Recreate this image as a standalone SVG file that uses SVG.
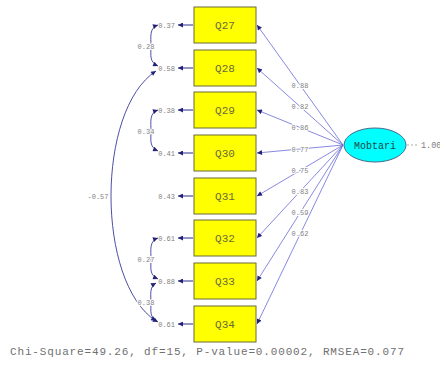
<svg xmlns="http://www.w3.org/2000/svg" width="440" height="367" viewBox="0 0 440 367">
<style>
.box{fill:#ffff00;stroke:#6b6b3a;stroke-width:1}
.bt{font-family:"Liberation Mono",monospace;font-size:11px;fill:#6a6a40;text-anchor:middle}
.sm{font-family:"Liberation Mono",monospace;font-size:7px;fill:#808080}
.ld{stroke:#6a6ad8;stroke-width:0.8;fill:none}
.er{stroke:#2a2a90;stroke-width:1;fill:none}
.cv{stroke:#3a3a9a;stroke-width:0.9;fill:none}
.lbl{paint-order:stroke;stroke:#ffffff;stroke-width:2px}
</style>
<defs>
<marker id="ah" viewBox="0 0 10 10" refX="10" refY="5" markerWidth="6" markerHeight="5" markerUnits="userSpaceOnUse" orient="auto-start-reverse">
<path d="M0,0 L10,5 L0,10 z" fill="#22227a"/>
</marker>
</defs>
<rect width="440" height="367" fill="#ffffff"/>
<g id="connectors">
<line class="ld" x1="343" y1="145" x2="257" y2="25" marker-end="url(#ah)"/>
<line class="ld" x1="343" y1="145" x2="257" y2="68" marker-end="url(#ah)"/>
<line class="ld" x1="343" y1="145" x2="257" y2="110" marker-end="url(#ah)"/>
<line class="ld" x1="343" y1="145" x2="257" y2="153" marker-end="url(#ah)"/>
<line class="ld" x1="343" y1="145" x2="257" y2="196" marker-end="url(#ah)"/>
<line class="ld" x1="343" y1="145" x2="257" y2="238" marker-end="url(#ah)"/>
<line class="ld" x1="343" y1="145" x2="257" y2="281" marker-end="url(#ah)"/>
<line class="ld" x1="343" y1="145" x2="257" y2="324" marker-end="url(#ah)"/>
<line x1="407" y1="145" x2="419" y2="145" stroke="#9a9a9a" stroke-width="0.8" stroke-dasharray="2,2"/>
<line class="er" x1="193" y1="25" x2="178" y2="25" marker-end="url(#ah)"/>
<line class="er" x1="193" y1="68" x2="178" y2="68" marker-end="url(#ah)"/>
<line class="er" x1="193" y1="110" x2="178" y2="110" marker-end="url(#ah)"/>
<line class="er" x1="193" y1="153" x2="178" y2="153" marker-end="url(#ah)"/>
<line class="er" x1="193" y1="196" x2="178" y2="196" marker-end="url(#ah)"/>
<line class="er" x1="193" y1="238" x2="178" y2="238" marker-end="url(#ah)"/>
<line class="er" x1="193" y1="281" x2="178" y2="281" marker-end="url(#ah)"/>
<line class="er" x1="193" y1="324" x2="178" y2="324" marker-end="url(#ah)"/>
<path class="cv" d="M158,25 C149,28 151,37 151,46 C151,55 149,62 158,66" marker-start="url(#ah)" marker-end="url(#ah)"/>
<path class="cv" d="M158,110 C149,113 151,122 151,131 C151,140 149,147 158,151" marker-start="url(#ah)" marker-end="url(#ah)"/>
<path class="cv" d="M158,238 C149,241 151,250 151,259 C151,268 149,275 158,279" marker-start="url(#ah)" marker-end="url(#ah)"/>
<path class="cv" d="M156,283 C149,287 151,295 151,303 C151,311 149,317 158,322" marker-start="url(#ah)" marker-end="url(#ah)"/>
<path class="cv" d="M156,71 C96,110 96,282 156,321" marker-start="url(#ah)" marker-end="url(#ah)"/>
</g>
<g id="labels">
<text class="sm" x="175" y="27.5" text-anchor="end">0.37</text>
<text class="sm" x="175" y="70.5" text-anchor="end">0.58</text>
<text class="sm" x="175" y="112.5" text-anchor="end">0.38</text>
<text class="sm" x="175" y="155.5" text-anchor="end">0.41</text>
<text class="sm" x="175" y="198.5" text-anchor="end">0.43</text>
<text class="sm" x="175" y="240.5" text-anchor="end">0.61</text>
<text class="sm" x="175" y="283.5" text-anchor="end">0.88</text>
<text class="sm" x="175" y="326.5" text-anchor="end">0.61</text>
<text class="sm lbl" x="146" y="48.5" text-anchor="middle">0.28</text>
<text class="sm lbl" x="146" y="133.5" text-anchor="middle">0.34</text>
<text class="sm lbl" x="146" y="261.5" text-anchor="middle">0.27</text>
<text class="sm lbl" x="146" y="305" text-anchor="middle">0.38</text>
<text class="sm" x="98" y="198.5" text-anchor="middle">-0.57</text>
<text class="sm lbl" x="300" y="88" text-anchor="middle">0.88</text>
<text class="sm lbl" x="300" y="109" text-anchor="middle">0.82</text>
<text class="sm lbl" x="300" y="130" text-anchor="middle">0.86</text>
<text class="sm lbl" x="300" y="151.5" text-anchor="middle">0.77</text>
<text class="sm lbl" x="300" y="172.5" text-anchor="middle">0.75</text>
<text class="sm lbl" x="300" y="193.5" text-anchor="middle">0.83</text>
<text class="sm lbl" x="300" y="215" text-anchor="middle">0.59</text>
<text class="sm lbl" x="300" y="236" text-anchor="middle">0.62</text>
<text class="sm" x="421" y="148" style="font-size:8.5px">1.00</text>
</g>
<g id="Q27"><rect class="box" x="194" y="7" width="62" height="36"/><text class="bt" x="225" y="29">Q27</text></g>
<g id="Q28"><rect class="box" x="194" y="50" width="62" height="36"/><text class="bt" x="225" y="72">Q28</text></g>
<g id="Q29"><rect class="box" x="194" y="92" width="62" height="36"/><text class="bt" x="225" y="114">Q29</text></g>
<g id="Q30"><rect class="box" x="194" y="135" width="62" height="36"/><text class="bt" x="225" y="157">Q30</text></g>
<g id="Q31"><rect class="box" x="194" y="178" width="62" height="36"/><text class="bt" x="225" y="200">Q31</text></g>
<g id="Q32"><rect class="box" x="194" y="220" width="62" height="36"/><text class="bt" x="225" y="242">Q32</text></g>
<g id="Q33"><rect class="box" x="194" y="263" width="62" height="36"/><text class="bt" x="225" y="285">Q33</text></g>
<g id="Q34"><rect class="box" x="194" y="306" width="62" height="36"/><text class="bt" x="225" y="328">Q34</text></g>
<g id="Mobtari"><ellipse cx="375" cy="145" rx="31" ry="17" fill="#00ffff" stroke="#4a6a8a" stroke-width="1"/><text x="375" y="148.5" font-family="Liberation Mono, monospace" font-size="10" fill="#204848" text-anchor="middle">Mobtari</text></g>
<text x="10" y="355" font-family="Liberation Mono, monospace" font-size="11" fill="#707070" textLength="394">Chi-Square=49.26, df=15, P-value=0.00002, RMSEA=0.077</text>
</svg>
